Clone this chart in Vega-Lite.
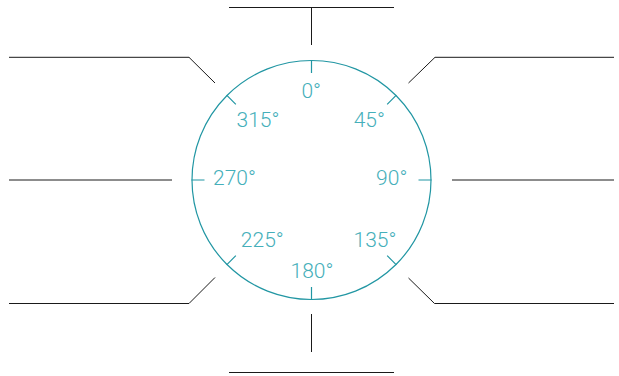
{
  "$schema": "https://vega.github.io/schema/vega-lite/v6.json",
  "width": 619,
  "height": 376,
  "autosize": {"type": "fit", "contains": "padding"},
  "padding": 0,
  "background": "white",
  "config": {"view": {"stroke": null}},
  "datasets": {
    "leaders": [
      {"x": -82.5, "y": 172.5, "xe": 82.5, "ye": 172.5},
      {"x": 0, "y": 172.5, "xe": 0, "ye": 135},
      {"x": -302.5, "y": 122.7, "xe": -122.5, "ye": 122.7},
      {"x": -122.5, "y": 122.7, "xe": -96.5, "ye": 97},
      {"x": 123.5, "y": 122.7, "xe": 302.5, "ye": 122.7},
      {"x": 123.5, "y": 122.7, "xe": 97, "ye": 97},
      {"x": -302.5, "y": 0, "xe": -139.5, "ye": 0},
      {"x": 140.5, "y": 0, "xe": 302.5, "ye": 0},
      {"x": -302.5, "y": -123.5, "xe": -122.5, "ye": -123.5},
      {"x": -122.5, "y": -123.5, "xe": -96.5, "ye": -97.5},
      {"x": 123, "y": -123.5, "xe": 302.5, "ye": -123.5},
      {"x": 123, "y": -123.5, "xe": 97, "ye": -98},
      {"x": 0, "y": -134, "xe": 0, "ye": -172},
      {"x": -82.5, "y": -192.5, "xe": 82.5, "ye": -192.5}
    ],
    "angles": [
      {"angle": 0, "label": "0°", "lx": -0.3, "ly": 88},
      {"angle": 45, "label": "45°", "lx": 57.8, "ly": 59.3},
      {"angle": 90, "label": "90°", "lx": 80.2, "ly": 0.8},
      {"angle": 135, "label": "135°", "lx": 63.5, "ly": -61.2},
      {"angle": 180, "label": "180°", "lx": 0.5, "ly": -91.7},
      {"angle": 225, "label": "225°", "lx": -49.2, "ly": -61.2},
      {"angle": 270, "label": "270°", "lx": -77, "ly": 0.8},
      {"angle": 315, "label": "315°", "lx": -53.5, "ly": 59.3}
    ],
    "center": [{"cx": 0, "cy": 0}]
  },
  "layer": [
    {
      "data": {"name": "leaders"},
      "mark": {"type": "rule", "color": "#1a1a1a", "strokeWidth": 1},
      "encoding": {
        "x": {"field": "x", "type": "quantitative", "scale": {"domain": [-311.5, 307.5], "nice": false, "zero": false}, "axis": null},
        "y": {"field": "y", "type": "quantitative", "scale": {"domain": [-196, 180], "nice": false, "zero": false}, "axis": null},
        "x2": {"field": "xe"},
        "y2": {"field": "ye"}
      }
    },
    {
      "data": {"name": "center"},
      "mark": {"type": "point", "shape": "circle", "filled": false, "size": 57121, "stroke": "#2196a3", "strokeWidth": 1.2, "opacity": 1},
      "encoding": {
        "x": {"field": "cx", "type": "quantitative"},
        "y": {"field": "cy", "type": "quantitative"}
      }
    },
    {
      "data": {"name": "angles"},
      "mark": {"type": "arc", "radius": 120, "radius2": 107, "fill": null, "stroke": "#2196a3", "strokeWidth": 1.2},
      "encoding": {
        "x": {"datum": 0, "type": "quantitative"},
        "y": {"datum": 0, "type": "quantitative"},
        "theta": {"field": "angle", "type": "quantitative", "stack": null, "scale": {"domain": [0, 360], "range": [0, 6.283185307179586]}},
        "theta2": {"field": "angle"}
      }
    },
    {
      "data": {"name": "angles"},
      "mark": {"type": "text", "font": "Roboto", "fontWeight": 300, "fontSize": 21, "color": "#45afba", "align": "center", "baseline": "middle"},
      "encoding": {
        "x": {"field": "lx", "type": "quantitative"},
        "y": {"field": "ly", "type": "quantitative"},
        "text": {"field": "label"}
      }
    }
  ]
}
